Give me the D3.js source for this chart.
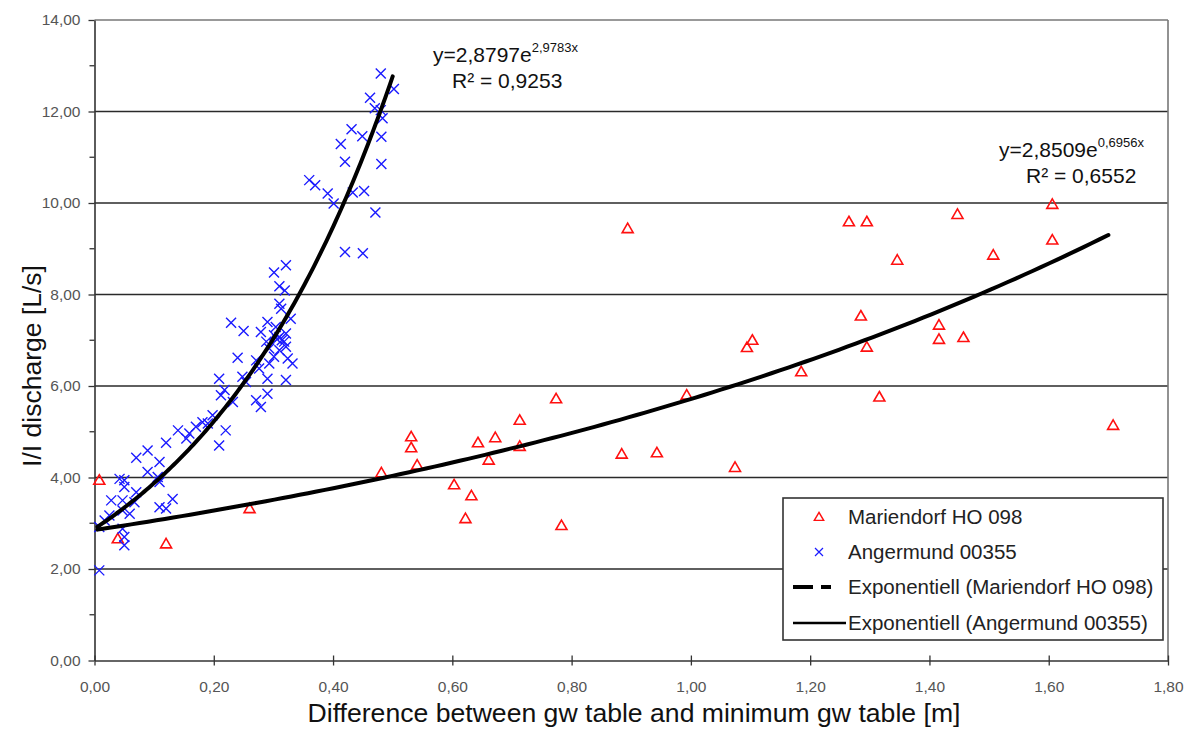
<!DOCTYPE html>
<html>
<head>
<meta charset="utf-8">
<script src="https://cdn.jsdelivr.net/npm/d3@7"></script>
<style>
  html, body { margin: 0; padding: 0; background: #fff; }
  svg { display: block; font-family: "Liberation Sans", Arial, sans-serif; }
</style>
</head>
<body>
<svg id="chart" width="1200" height="729"></svg>
<script>
// Mariendorf HO 098 observations (x: gw difference [m], y: I/I discharge [L/s])
const mariendorfX = [0.008, 0.039, 0.12, 0.26, 0.481, 0.531, 0.531, 0.541, 0.603, 0.622,
  0.632, 0.643, 0.661, 0.672, 0.713, 0.713, 0.774, 0.783, 0.884, 0.894,
  0.943, 0.993, 1.074, 1.094, 1.103, 1.185, 1.265, 1.285, 1.295, 1.295,
  1.316, 1.346, 1.416, 1.416, 1.447, 1.457, 1.507, 1.606, 1.606, 1.708];
const mariendorfY = [3.94, 2.66, 2.55, 3.32, 4.10, 4.89, 4.65, 4.27, 3.84, 3.10,
  3.60, 4.76, 4.38, 4.87, 5.25, 4.68, 5.72, 2.95, 4.51, 9.44,
  4.54, 5.80, 4.22, 6.84, 7.00, 6.31, 9.59, 7.53, 9.59, 6.85,
  5.76, 8.75, 7.33, 7.02, 9.75, 7.06, 8.86, 9.97, 9.19, 5.14];

// Angermund 00355 observations
const angermundX = [0.480, 0.502, 0.462, 0.470, 0.480, 0.483, 0.431, 0.449, 0.481, 0.413,
  0.420, 0.481, 0.360, 0.370, 0.391, 0.401, 0.433, 0.452, 0.471, 0.420,
  0.450, 0.301, 0.321, 0.310, 0.319, 0.310, 0.313, 0.229, 0.250, 0.279,
  0.290, 0.304, 0.329, 0.301, 0.310, 0.306, 0.314, 0.321, 0.288, 0.318,
  0.321, 0.293, 0.310, 0.332, 0.324, 0.240, 0.271, 0.293, 0.301, 0.276,
  0.290, 0.321, 0.248, 0.254, 0.209, 0.212, 0.218, 0.232, 0.271, 0.279,
  0.290, 0.198, 0.190, 0.170, 0.181, 0.159, 0.154, 0.140, 0.220, 0.209,
  0.120, 0.089, 0.070, 0.109, 0.089, 0.106, 0.109, 0.042, 0.050, 0.050,
  0.070, 0.028, 0.047, 0.067, 0.059, 0.047, 0.109, 0.120, 0.131, 0.017,
  0.008, 0.047, 0.050, 0.050, 0.008, 0.025];
const angermundY = [12.83, 12.49, 12.30, 12.07, 12.03, 11.85, 11.61, 11.46, 11.45, 11.29,
  10.90, 10.85, 10.50, 10.39, 10.21, 9.99, 10.23, 10.26, 9.79, 8.93,
  8.90, 8.48, 8.64, 8.18, 8.09, 7.80, 7.69, 7.38, 7.20, 7.18,
  7.40, 7.29, 7.47, 7.11, 7.07, 7.02, 7.00, 7.15, 6.97, 6.97,
  6.86, 6.82, 6.78, 6.49, 6.60, 6.62, 6.56, 6.49, 6.64, 6.38,
  6.16, 6.13, 6.20, 6.09, 6.16, 5.80, 5.91, 5.65, 5.69, 5.54,
  5.83, 5.36, 5.18, 5.11, 5.21, 4.96, 4.85, 5.03, 5.03, 4.70,
  4.76, 4.59, 4.43, 4.34, 4.12, 4.01, 3.90, 3.97, 3.94, 3.79,
  3.68, 3.50, 3.50, 3.46, 3.21, 3.28, 3.35, 3.32, 3.53, 3.06,
  2.92, 2.88, 2.70, 2.52, 1.97, 3.17];

// Exponential trend fits y = a * e^(b x), with their stated ranges
const trendMariendorf = { a: 2.8509, b: 0.6956, r2: "0,6552", from: 0.005, to: 1.70 };
const trendAngermund  = { a: 2.8797, b: 2.9783, r2: "0,9253", from: 0.005, to: 0.50 };

// Axis ticks
const xTicks = [0, 0.2, 0.4, 0.6, 0.8, 1.0, 1.2, 1.4, 1.6, 1.8];
const yTicks = [0, 2, 4, 6, 8, 10, 12, 14];
const yMinorTicks = [1, 3, 5, 7, 9, 11, 13];

const legendLabels = ["Mariendorf HO 098", "Angermund 00355",
  "Exponentiell (Mariendorf HO 098)", "Exponentiell (Angermund 00355)"];

const fmt = v => d3.format(".2f")(v).replace(".", ",");

const svg = d3.select("#chart");
const plot = { left: 94.5, right: 1168, top: 20, bottom: 660.5 };

const x = d3.scaleLinear().domain([0, 1.8]).range([plot.left, plot.right]);
const y = d3.scaleLinear().domain([0, 14]).range([plot.bottom, plot.top]);

// Horizontal gridlines
svg.append("g").selectAll("line").data(yTicks.filter(d => d > 0)).join("line")
  .attr("x1", plot.left).attr("x2", plot.right)
  .attr("y1", d => y(d)).attr("y2", d => y(d))
  .attr("stroke", d => d === 14 ? "#777" : "#2a2a2a")
  .attr("stroke-width", 1.6);

// Right frame border
svg.append("line")
  .attr("x1", plot.right).attr("x2", plot.right)
  .attr("y1", plot.top).attr("y2", plot.bottom)
  .attr("stroke", "#777").attr("stroke-width", 1.6);

// Y axis
const yAxis = d3.axisLeft(y).tickValues(yTicks).tickFormat(fmt).tickSizeOuter(0).tickSizeInner(6).tickPadding(8);
const gy = svg.append("g").attr("transform", `translate(${plot.left},0)`).call(yAxis);
gy.select(".domain").attr("stroke", "#333").attr("stroke-width", 1.6);
gy.selectAll(".tick line").attr("stroke", "#333").attr("stroke-width", 1.3);
gy.selectAll(".tick text").attr("font-size", 15.5).attr("fill", "#555")
  .attr("font-family", "Liberation Sans, Arial, sans-serif");
svg.append("g").selectAll("line").data(yMinorTicks).join("line")
  .attr("x1", plot.left - 5).attr("x2", plot.left)
  .attr("y1", d => y(d)).attr("y2", d => y(d))
  .attr("stroke", "#333").attr("stroke-width", 1.3);

// X axis
const xAxis = d3.axisBottom(x).tickValues(xTicks).tickFormat(fmt).tickSizeOuter(0).tickSizeInner(5).tickPadding(15);
const gx = svg.append("g").attr("transform", `translate(0,${plot.bottom})`).call(xAxis);
gx.select(".domain").attr("stroke", "#333").attr("stroke-width", 1.6);
gx.selectAll(".tick line").attr("y1", -5).attr("stroke", "#333").attr("stroke-width", 1.3);
gx.selectAll(".tick text").attr("font-size", 15.5).attr("fill", "#555")
  .attr("font-family", "Liberation Sans, Arial, sans-serif");

// Axis titles
svg.append("text")
  .attr("x", 634).attr("y", 722)
  .attr("text-anchor", "middle").attr("font-size", 26.6).attr("fill", "#111")
  .text("Difference between gw table and minimum gw table [m]");
svg.append("text")
  .attr("transform", `translate(41,366) rotate(-90)`)
  .attr("text-anchor", "middle").attr("font-size", 26.5).attr("fill", "#111")
  .text("I/I discharge [L/s]");

// Markers
const triPath = "M0,-5.5 L5.5,4 L-5.5,4 Z";
svg.append("g").selectAll("path").data(d3.range(mariendorfX.length)).join("path")
  .attr("d", triPath)
  .attr("transform", i => `translate(${x(mariendorfX[i])},${y(mariendorfY[i])})`)
  .attr("fill", "none").attr("stroke", "#ff1010").attr("stroke-width", 1.6);

const crossPath = "M-5,-5 L5,5 M-5,5 L5,-5";
svg.append("g").selectAll("path").data(d3.range(angermundX.length)).join("path")
  .attr("d", crossPath)
  .attr("transform", i => `translate(${x(angermundX[i])},${y(angermundY[i])})`)
  .attr("fill", "none").attr("stroke", "#1a1aff").attr("stroke-width", 1.4);

// Trend curves
const line = d3.line().x(d => x(d[0])).y(d => y(d[1]));
function trendPoints(t) {
  const n = 120;
  return d3.range(n + 1).map(i => {
    const xv = t.from + (t.to - t.from) * i / n;
    return [xv, t.a * Math.exp(t.b * xv)];
  });
}
[trendMariendorf, trendAngermund].forEach(t => {
  svg.append("path").datum(trendPoints(t))
    .attr("d", line).attr("fill", "none")
    .attr("stroke", "#000").attr("stroke-width", 4)
    .attr("stroke-linejoin", "round").attr("stroke-linecap", "round");
});

// Equation labels
function equation(t, ex, ey, r2x) {
  const g = svg.append("g").attr("fill", "#111");
  const base = g.append("text").attr("x", ex).attr("y", ey).attr("font-size", 21);
  base.append("tspan").text("y=" + String(t.a).replace(".", ",") + "e");
  base.append("tspan").attr("font-size", 13).attr("dy", -10)
    .text(String(t.b).replace(".", ",") + "x");
  g.append("text").attr("x", r2x).attr("y", ey + 26).attr("font-size", 21)
    .text("R\u00b2 = " + t.r2);
}
equation(trendAngermund, 433, 62, 452);
equation(trendMariendorf, 999, 157, 1026);

// Legend
const lg = svg.append("g");
lg.append("rect").attr("x", 783).attr("y", 498).attr("width", 380).attr("height", 142)
  .attr("fill", "#fff").attr("stroke", "#333").attr("stroke-width", 1.6);
const rowY = [517, 552, 587, 623];
lg.selectAll("text").data(legendLabels).join("text")
  .attr("x", 848).attr("y", (d, i) => rowY[i]).attr("dy", "0.36em")
  .attr("font-size", 20.5).attr("fill", "#222").text(d => d);
lg.append("path").attr("d", triPath)
  .attr("transform", `translate(819,${rowY[0]}) scale(0.85)`)
  .attr("fill", "none").attr("stroke", "#ff1010").attr("stroke-width", 1.7);
lg.append("path").attr("d", crossPath)
  .attr("transform", `translate(819,${rowY[1]}) scale(0.8)`)
  .attr("fill", "none").attr("stroke", "#1a1aff").attr("stroke-width", 1.5);
lg.append("line").attr("x1", 793).attr("x2", 838).attr("y1", rowY[2]).attr("y2", rowY[2])
  .attr("stroke", "#000").attr("stroke-width", 4).attr("stroke-dasharray", "20,8,10,100");
lg.append("line").attr("x1", 793).attr("x2", 846).attr("y1", rowY[3]).attr("y2", rowY[3])
  .attr("stroke", "#000").attr("stroke-width", 2.6);
</script>
</body>
</html>
